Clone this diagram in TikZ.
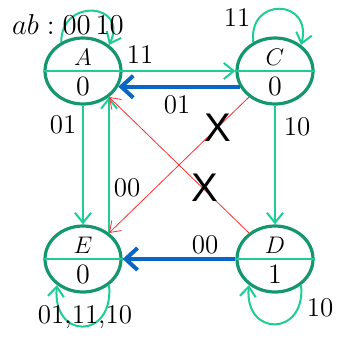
\documentclass[tikz,border=0pt]{standalone}
\usepackage{fontspec}
\newfontfamily\crossfont{Liberation Sans}
\usepackage{tikz}
\usetikzlibrary{arrows.meta,shapes.geometric}
\definecolor{nodegreen}{RGB}{20,150,110}
\definecolor{edgegreen}{RGB}{30,205,150}
\definecolor{backblue}{RGB}{10,102,196}
\definecolor{wrongred}{RGB}{255,45,45}

\begin{document}
\begin{tikzpicture}[x=0.5pt,y=-0.5pt,
        state/.style={ellipse,draw=nodegreen,line width=1.6pt,
            minimum width=38pt,minimum height=33pt,inner sep=0pt},
        statename/.style={inner sep=0pt,font=\fontsize{13}{14}\selectfont},
        stateout/.style={inner sep=0pt,font=\fontsize{14}{15}\selectfont},
        go/.style={draw=edgegreen,line width=1pt,-{Straight Barb[length=5pt,width=8pt]}},
        back/.style={draw=backblue,line width=2pt,-{Straight Barb[length=6pt,width=11pt]}},
        bad/.style={draw=wrongred,line width=0.4pt,-{Straight Barb[length=5pt,width=7pt]}},
        lbl/.style={font=\fontsize{13.5}{15}\selectfont},
        cross/.style={font=\crossfont\fontsize{20}{20}\selectfont}]
    \useasboundingbox (0,0) rectangle (341,338);
    % the four states
    \node[state] (A) at (83,71) {};
    \node[state] (C) at (275,71) {};
    \node[state] (E) at (83,259) {};
    \node[state] (D) at (275,259) {};
    \foreach \s/\v in {A/0,C/0,D/1,E/0}{
            \draw[edgegreen,line width=1pt] (\s.west) -- (\s.east);
            \node[statename] (\s-name) at ([yshift=7pt]\s.center) {$\s$};
            \node[stateout] (\s-out) at ([yshift=-7.5pt]\s.center) {\v};
        }
    % transitions
    \draw[go] (A.east) -- (C.west);
    \draw[back] (C.204) -- (A.-24);
    \draw[go] (A.south) -- (E.north);
    \draw[go] (E.45) -- (A.-45);
    \draw[go] (C.south) -- (D.north);
    \draw[back] (D.west) -- (E.east);
    \draw[bad] (C.225) -- (E.45);
    \draw[bad] (D.135) -- (A.-45);
    % self loops
    \draw[go] (A.127) .. controls +(0,-45) and +(20,-42) .. (A.45);
    \draw[go] (C.127) .. controls +(-5,-46) and +(12,-46) .. (C.45);
    \draw[go] (E.-45) .. controls +(5,55) and +(-5,55) .. (E.225);
    \draw[go] (D.-45) .. controls +(5,52) and +(-5,52) .. (D.225);
    % labels
    \node[lbl] (lab) at (68,24) {$ab:00\,10$};
    \node[lbl] (lac) at (140,55) {11};
    \node[lbl] (lca) at (177,105) {01};
    \node[lbl] (lae) at (63,125) {01};
    \node[lbl] (lea) at (127,188) {00};
    \node[lbl] (lcd) at (297,127) {10};
    \node[lbl] (lde) at (205,245) {00};
    \node[lbl] (lcc) at (237,18) {11};
    \node[lbl] (lee) at (85,317) {01,11,10};
    \node[lbl] (ldd) at (320,308) {10};
    \node[cross] (x1) at (218,128) {X};
    \node[cross] (x2) at (205,188) {X};
\end{tikzpicture}
\end{document}
